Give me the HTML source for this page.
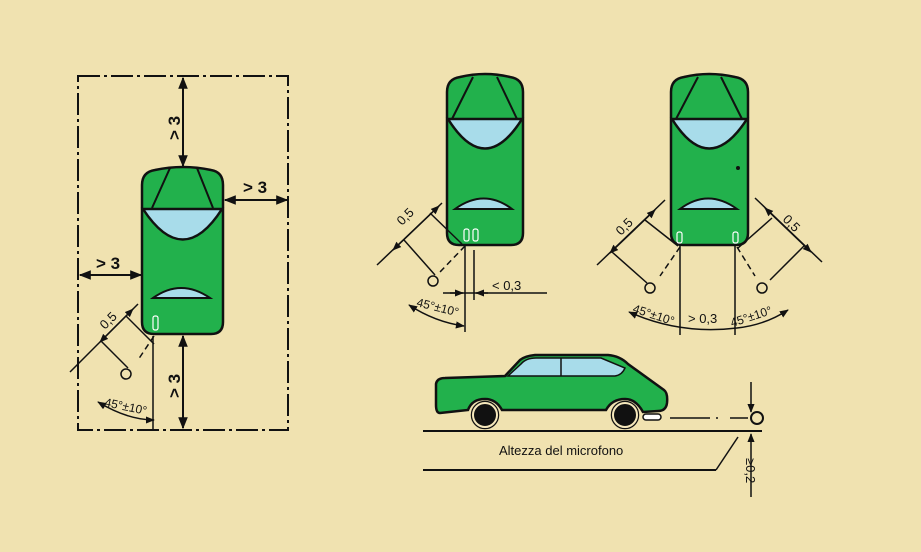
<!DOCTYPE html>
<html><head><meta charset="utf-8"><style>
html,body{margin:0;padding:0;background:#f0e2b0;}
svg{display:block;}
text{font-family:"Liberation Sans",sans-serif;fill:#111;}
</style></head><body>
<svg width="921" height="552" viewBox="0 0 921 552" xmlns="http://www.w3.org/2000/svg">
<defs>
<marker id="a" viewBox="0 0 10 10" refX="9" refY="5" markerWidth="6" markerHeight="6" orient="auto-start-reverse"><path d="M0,1 L10,5 L0,9 Z" fill="#111"/></marker>
</defs>
<rect width="921" height="552" fill="#f0e2b0"/>
<g stroke="#111" fill="none" stroke-width="2">
<rect x="78" y="76" width="210" height="354" stroke-dasharray="22,4,3,4"/>
<line x1="183" y1="78" x2="183" y2="166" marker-start="url(#a)" marker-end="url(#a)"/>
<line x1="183" y1="336" x2="183" y2="428" marker-start="url(#a)" marker-end="url(#a)"/>
<line x1="225" y1="200" x2="287" y2="200" marker-start="url(#a)" marker-end="url(#a)"/>
<line x1="80" y1="275" x2="141" y2="275" marker-start="url(#a)" marker-end="url(#a)"/>
</g>
<g font-weight="bold" font-size="17">
<text transform="translate(180,140) rotate(-90)">&gt; 3</text>
<text transform="translate(180,398) rotate(-90)">&gt; 3</text>
<text x="243" y="193">&gt; 3</text>
<text x="96" y="269">&gt; 3</text>
</g>
<g stroke="#111" stroke-width="2.5">
<path d="M142,185 Q142,172 155,170 Q183,164 211,170 Q223,172 223,185 L223,322 Q223,334 211,334 L154,334 Q142,334 142,322 Z" fill="#22b14c"/>
<path d="M143,209 Q183,270 222,209 Z" fill="#a8dcea"/>
<path d="M153,298 Q181,278 210,298 Z" fill="#a8dcea" stroke-width="2"/>
<line x1="152" y1="208" x2="170" y2="168" stroke-width="2"/>
<line x1="213" y1="208" x2="197" y2="168" stroke-width="2"/>
</g>
<rect x="153" y="316" width="5" height="14" rx="2" fill="none" stroke="#fff" stroke-width="1.2"/>
<g stroke="#111" stroke-width="1.5" fill="none">
<line x1="70" y1="372" x2="138" y2="304"/>
<line x1="100" y1="342" x2="133" y2="309" marker-start="url(#a)" marker-end="url(#a)"/>
<line x1="101" y1="341" x2="128" y2="368"/>
<line x1="126" y1="316" x2="154" y2="344"/>
<line x1="154" y1="336" x2="138" y2="360" stroke-dasharray="6,4"/>
<line x1="153" y1="336" x2="153" y2="430"/>
<circle cx="126" cy="374" r="5"/>
<path d="M98,402 Q128,420 154,420" marker-start="url(#a)" marker-end="url(#a)"/>
</g>
<text transform="translate(105,330) rotate(-45)" font-size="13">0,5</text>
<text transform="translate(104,406) rotate(12)" font-size="12">45°±10°</text>

<g stroke="#111" stroke-width="2.5">
<path d="M447,92 Q447,79 460,77 Q485,71 510,77 Q523,79 523,92 L523,233 Q523,245 511,245 L459,245 Q447,245 447,233 Z" fill="#22b14c"/>
<path d="M448,119 Q485,178 522,119 Z" fill="#a8dcea"/>
<path d="M455,209 Q484,188 512,209 Z" fill="#a8dcea" stroke-width="2"/>
<line x1="452" y1="119" x2="473" y2="77" stroke-width="2"/>
<line x1="517" y1="119" x2="497" y2="77" stroke-width="2"/>
</g>
<rect x="464" y="229" width="5" height="12" rx="2" fill="none" stroke="#fff" stroke-width="1.2"/>
<rect x="473" y="229" width="5" height="12" rx="2" fill="none" stroke="#fff" stroke-width="1.2"/>
<g stroke="#111" stroke-width="1.5" fill="none">
<line x1="377" y1="265" x2="442" y2="203"/>
<line x1="393" y1="250" x2="439" y2="206" marker-start="url(#a)" marker-end="url(#a)"/>
<line x1="404" y1="240" x2="435" y2="275"/>
<line x1="430" y1="213" x2="462" y2="244"/>
<line x1="465" y1="246" x2="440" y2="272" stroke-dasharray="6,4"/>
<line x1="465" y1="245" x2="465" y2="332"/>
<line x1="474" y1="250" x2="474" y2="300"/>
<line x1="443" y1="293" x2="547" y2="293"/>
<line x1="450" y1="293" x2="463" y2="293" marker-end="url(#a)"/>
<line x1="488" y1="293" x2="476" y2="293" marker-end="url(#a)"/>
<circle cx="433" cy="281" r="5"/>
<path d="M409,305 Q435,322 464,326" marker-start="url(#a)" marker-end="url(#a)"/>
</g>
<text x="492" y="290" font-size="13">&lt; 0,3</text>
<text transform="translate(402,226) rotate(-45)" font-size="13">0,5</text>
<text transform="translate(416,306) rotate(14)" font-size="12">45°±10°</text>

<g stroke="#111" stroke-width="2.5">
<path d="M671,92 Q671,79 684,77 Q709,71 735,77 Q748,79 748,92 L748,233 Q748,245 736,245 L683,245 Q671,245 671,233 Z" fill="#22b14c"/>
<path d="M672,119 Q709,178 747,119 Z" fill="#a8dcea"/>
<path d="M680,209 Q708,188 737,209 Z" fill="#a8dcea" stroke-width="2"/>
<line x1="676" y1="119" x2="698" y2="77" stroke-width="2"/>
<line x1="742" y1="119" x2="721" y2="77" stroke-width="2"/>
</g>
<circle cx="738" cy="168" r="2" fill="#111"/>
<rect x="677" y="232" width="5" height="11" rx="2" fill="none" stroke="#fff" stroke-width="1.2"/>
<rect x="733" y="232" width="5" height="11" rx="2" fill="none" stroke="#fff" stroke-width="1.2"/>
<g stroke="#111" stroke-width="1.5" fill="none">
<line x1="597" y1="265" x2="665" y2="200"/>
<line x1="610" y1="253" x2="655" y2="210" marker-start="url(#a)" marker-end="url(#a)"/>
<line x1="612" y1="252" x2="647" y2="283"/>
<line x1="645" y1="220" x2="678" y2="246"/>
<line x1="680" y1="247" x2="660" y2="276" stroke-dasharray="6,4"/>
<line x1="822" y1="262" x2="755" y2="198"/>
<line x1="765" y1="208" x2="811" y2="252" marker-start="url(#a)" marker-end="url(#a)"/>
<line x1="772" y1="218" x2="738" y2="248"/>
<line x1="805" y1="245" x2="770" y2="280"/>
<line x1="737" y1="247" x2="755" y2="276" stroke-dasharray="6,4"/>
<line x1="680" y1="245" x2="680" y2="335"/>
<line x1="735" y1="245" x2="735" y2="335"/>
<circle cx="650" cy="288" r="5"/>
<circle cx="762" cy="288" r="5"/>
<path d="M629,312 Q680,335 737,328 Q765,325 788,310" marker-start="url(#a)" marker-end="url(#a)"/>
</g>
<text transform="translate(621,236) rotate(-45)" font-size="13">0,5</text>
<text transform="translate(782,220) rotate(45)" font-size="13">0,5</text>
<text transform="translate(632,312) rotate(18)" font-size="12">45°±10°</text>
<text x="688" y="323" font-size="13">&gt; 0,3</text>
<text transform="translate(732,327) rotate(-18)" font-size="12">45°±10°</text>

<g stroke="#111" stroke-width="2.5">
<path d="M505,376 L520,360 Q525,356 535,355 L608,355 Q620,356 628,364 L664,390 Q668,393 667,403 Q666,411 658,411 L643,412 Q636,399 625,399 Q612,399 606,410 L502,410 Q496,399 485,399 Q472,399 468,410 L440,413 Q436,413 436,405 L436,384 Q437,378 445,378 Z" fill="#22b14c"/>
<path d="M508,376 L521,364 Q526,358 536,358 L601,358 L625,368 Q622,375 615,376 Z" fill="#a8dcea" stroke-width="1.5"/>
<line x1="561" y1="358" x2="561" y2="376" stroke-width="1.5"/>
<circle cx="485" cy="415" r="13" fill="#111"/>
<circle cx="625" cy="415" r="13" fill="#111"/>
</g>
<circle cx="485" cy="415" r="12" fill="none" stroke="#f6e8bc" stroke-width="2"/>
<circle cx="625" cy="415" r="12" fill="none" stroke="#f6e8bc" stroke-width="2"/>
<g stroke="#111" stroke-width="2" fill="none">
<line x1="423" y1="431" x2="762" y2="431"/>
<line x1="423" y1="470" x2="716" y2="470"/>
<line x1="716" y1="470" x2="738" y2="437" stroke-width="1.5"/>
<line x1="670" y1="418" x2="718" y2="418" stroke-dasharray="40,6,4,6" stroke-width="1.5"/>
<line x1="730" y1="418" x2="748" y2="418" stroke-width="1.5"/>
<line x1="751" y1="382" x2="751" y2="412" marker-end="url(#a)" stroke-width="1.5"/>
<line x1="751" y1="497" x2="751" y2="434" marker-end="url(#a)" stroke-width="1.5"/>
<circle cx="757" cy="418" r="6"/>
</g>
<rect x="643" y="414" width="18" height="6" rx="3" fill="#fff" stroke="#111" stroke-width="1.5"/>
<text x="499" y="455" font-family="Liberation Serif" font-size="13">Altezza del microfono</text>
<text transform="translate(746,458) rotate(90)" font-size="13">≥0,2</text>
</svg>
</body></html>
